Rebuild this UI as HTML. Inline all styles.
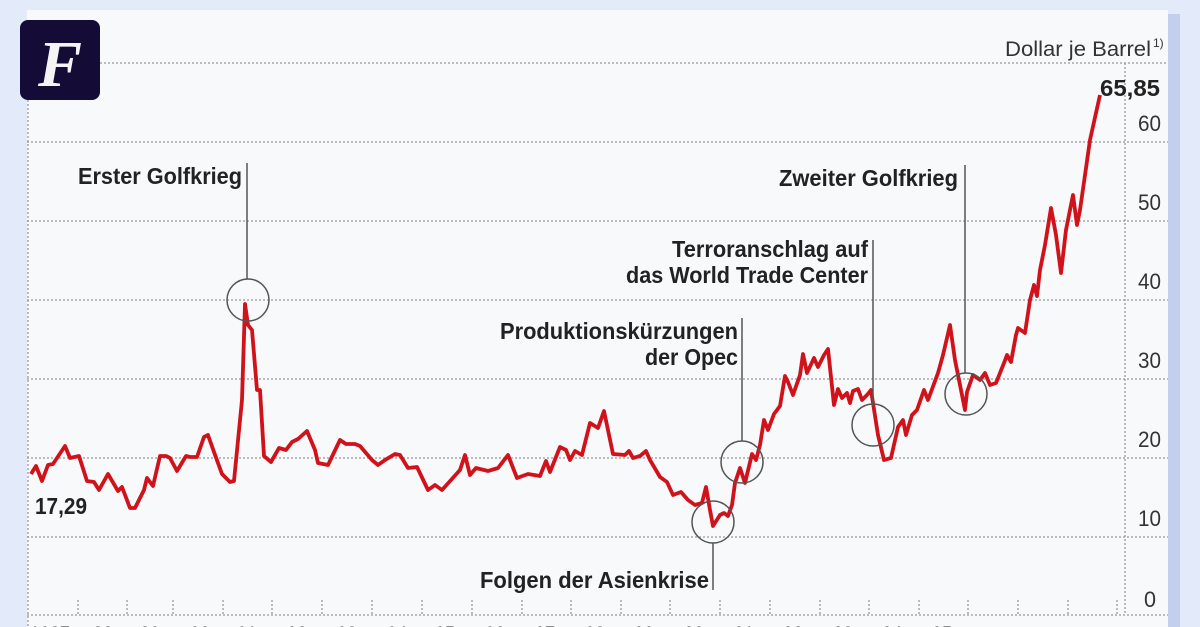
<!DOCTYPE html>
<html><head><meta charset="utf-8"><style>
body{margin:0;background:#e3ebfb;width:1200px;height:627px;overflow:hidden}
svg{display:block}
.l{font-family:"Liberation Sans",sans-serif;font-weight:bold;font-size:23px;fill:#222}
.n{font-family:"Liberation Sans",sans-serif;font-size:22px;fill:#333}
</style></head><body>
<svg width="1200" height="627" xmlns="http://www.w3.org/2000/svg">
<rect x="1168" y="14" width="12" height="620" fill="#c4cfee"/>
<rect x="27" y="10" width="1141" height="620" fill="#f8f9fa"/>
<g stroke="#999" stroke-width="1.3" stroke-dasharray="2,2">
<line x1="100" y1="63" x2="1168" y2="63"/>
<line x1="27" y1="142" x2="1168" y2="142"/>
<line x1="27" y1="221" x2="1168" y2="221"/>
<line x1="27" y1="300" x2="1168" y2="300"/>
<line x1="27" y1="379" x2="1168" y2="379"/>
<line x1="27" y1="458" x2="1168" y2="458"/>
<line x1="27" y1="537" x2="1168" y2="537"/>
<line x1="27" y1="615" x2="1168" y2="615"/>
<line x1="28" y1="100" x2="28" y2="627"/>
<line x1="1125" y1="63" x2="1125" y2="615"/>
<line x1="78" y1="600" x2="78" y2="615"/><line x1="127" y1="600" x2="127" y2="615"/><line x1="173" y1="600" x2="173" y2="615"/><line x1="223" y1="600" x2="223" y2="615"/><line x1="272" y1="600" x2="272" y2="615"/><line x1="322" y1="600" x2="322" y2="615"/><line x1="372" y1="600" x2="372" y2="615"/><line x1="422" y1="600" x2="422" y2="615"/><line x1="472" y1="600" x2="472" y2="615"/><line x1="522" y1="600" x2="522" y2="615"/><line x1="571" y1="600" x2="571" y2="615"/><line x1="621" y1="600" x2="621" y2="615"/><line x1="670" y1="600" x2="670" y2="615"/><line x1="720" y1="600" x2="720" y2="615"/><line x1="770" y1="600" x2="770" y2="615"/><line x1="820" y1="600" x2="820" y2="615"/><line x1="869" y1="600" x2="869" y2="615"/><line x1="919" y1="600" x2="919" y2="615"/><line x1="968" y1="600" x2="968" y2="615"/><line x1="1018" y1="600" x2="1018" y2="615"/><line x1="1068" y1="600" x2="1068" y2="615"/><line x1="1117" y1="600" x2="1117" y2="615"/>
</g>
<rect x="20" y="20" width="80" height="80" rx="8" fill="#140c36"/>
<text x="60" y="86" text-anchor="middle" font-family="Liberation Serif,serif" font-style="italic" font-weight="bold" font-size="66" fill="#f4f4f4">F</text>
<g class="n">
<text x="1138" y="131" textLength="23" lengthAdjust="spacingAndGlyphs">60</text><text x="1138" y="210" textLength="23" lengthAdjust="spacingAndGlyphs">50</text><text x="1138" y="289" textLength="23" lengthAdjust="spacingAndGlyphs">40</text><text x="1138" y="368" textLength="23" lengthAdjust="spacingAndGlyphs">30</text><text x="1138" y="447" textLength="23" lengthAdjust="spacingAndGlyphs">20</text><text x="1138" y="526" textLength="23" lengthAdjust="spacingAndGlyphs">10</text><text x="1144" y="607" textLength="12" lengthAdjust="spacingAndGlyphs">0</text>
<text x="1005" y="56" font-size="21" textLength="146" lengthAdjust="spacingAndGlyphs">Dollar je Barrel</text><text x="1153" y="47" font-size="12">1)</text>
</g>
<g class="n" fill="#222" style="fill:#222">
<text x="30" y="642" textLength="40" lengthAdjust="spacingAndGlyphs">1987</text><text x="93" y="642" textLength="20" lengthAdjust="spacingAndGlyphs">88</text><text x="140" y="642" textLength="20" lengthAdjust="spacingAndGlyphs">89</text><text x="190" y="642" textLength="20" lengthAdjust="spacingAndGlyphs">90</text><text x="237" y="642" textLength="20" lengthAdjust="spacingAndGlyphs">91</text><text x="287" y="642" textLength="20" lengthAdjust="spacingAndGlyphs">92</text><text x="337" y="642" textLength="20" lengthAdjust="spacingAndGlyphs">93</text><text x="387" y="642" textLength="20" lengthAdjust="spacingAndGlyphs">94</text><text x="435" y="642" textLength="20" lengthAdjust="spacingAndGlyphs">95</text><text x="485" y="642" textLength="20" lengthAdjust="spacingAndGlyphs">96</text><text x="535" y="642" textLength="20" lengthAdjust="spacingAndGlyphs">97</text><text x="585" y="642" textLength="20" lengthAdjust="spacingAndGlyphs">98</text><text x="634" y="642" textLength="20" lengthAdjust="spacingAndGlyphs">99</text><text x="684" y="642" textLength="20" lengthAdjust="spacingAndGlyphs">00</text><text x="734" y="642" textLength="20" lengthAdjust="spacingAndGlyphs">01</text><text x="783" y="642" textLength="20" lengthAdjust="spacingAndGlyphs">02</text><text x="833" y="642" textLength="20" lengthAdjust="spacingAndGlyphs">03</text><text x="882" y="642" textLength="20" lengthAdjust="spacingAndGlyphs">04</text><text x="932" y="642" textLength="20" lengthAdjust="spacingAndGlyphs">05</text>
</g>
<polyline fill="none" stroke="#d0121b" stroke-width="3.8" stroke-linejoin="round" points="31,474 36,466 42,481 48,465 53,464 65,446 70,458 79,456 87,481 94,482 99,490 108,474 118,491 122,487 130,508 135,508 144,490 147,478 153,486 160,456 166,456 170,458 177,471 186,456 190,457 197,457 204,437 208,435 214,452 222,474 230,482 234,481 242,400 245,304 248,325 252,330 257,390 260,390 264,456 271,462 279,448 286,450 292,442 298,439 307,431 315,450 318,463 328,465 340,440 346,444 355,444 360,446 372,460 378,465 385,460 395,454 400,455 408,468 417,467 428,490 435,485 442,490 460,470 465,455 470,475 476,468 488,471 498,468 508,455 517,478 528,474 540,476 546,461 550,472 560,447 566,450 570,460 575,451 582,455 590,423 598,428 604,411 613,454 625,455 629,451 633,458 640,456 646,451 650,460 660,477 667,482 673,495 681,492 688,500 695,505 702,503 706,487 710,510 713,526 720,515 724,513 728,516 732,505 735,483 740,468 745,483 752,454 756,460 760,445 764,420 768,430 774,414 780,406 785,376 788,382 793,395 800,375 803,354 807,373 814,358 818,367 824,355 828,349 834,405 838,389 842,398 847,393 850,403 853,391 858,389 862,400 867,395 871,390 878,435 884,460 891,458 898,427 903,420 906,435 912,415 917,410 924,390 928,400 938,373 943,355 950,325 955,360 965,410 967,392 973,375 980,380 985,373 990,385 996,383 1004,363 1007,355 1011,362 1016,335 1018,328 1025,333 1030,300 1034,285 1037,296 1040,270 1045,245 1051,208 1056,235 1061,273 1066,230 1073,195 1077,225 1080,210 1085,175 1090,140 1100,95"/>
<g fill="none" stroke="#555" stroke-width="1.5">
<circle cx="248" cy="300" r="21"/><circle cx="742" cy="462" r="21"/><circle cx="713" cy="522" r="21"/><circle cx="873" cy="425" r="21"/><circle cx="966" cy="394" r="21"/>
<line x1="247" y1="163" x2="247" y2="279"/><line x1="742" y1="318" x2="742" y2="441"/><line x1="713" y1="543" x2="713" y2="590"/><line x1="873" y1="240" x2="873" y2="404"/><line x1="965" y1="165" x2="965" y2="373"/>
</g>
<g class="l">
<text x="78" y="184" textLength="164" lengthAdjust="spacingAndGlyphs">Erster Golfkrieg</text>
<text x="500" y="339" textLength="238" lengthAdjust="spacingAndGlyphs">Produktionskürzungen</text><text x="645" y="365" textLength="93" lengthAdjust="spacingAndGlyphs">der Opec</text>
<text x="672" y="257" textLength="196" lengthAdjust="spacingAndGlyphs">Terroranschlag auf</text><text x="626" y="283" textLength="242" lengthAdjust="spacingAndGlyphs">das World Trade Center</text>
<text x="779" y="186" textLength="179" lengthAdjust="spacingAndGlyphs">Zweiter Golfkrieg</text>
<text x="480" y="588" textLength="229" lengthAdjust="spacingAndGlyphs">Folgen der Asienkrise</text>
<text x="1100" y="96" textLength="60" lengthAdjust="spacingAndGlyphs">65,85</text>
<text x="35" y="514" textLength="52" lengthAdjust="spacingAndGlyphs">17,29</text>
</g>
</svg>
</body></html>
